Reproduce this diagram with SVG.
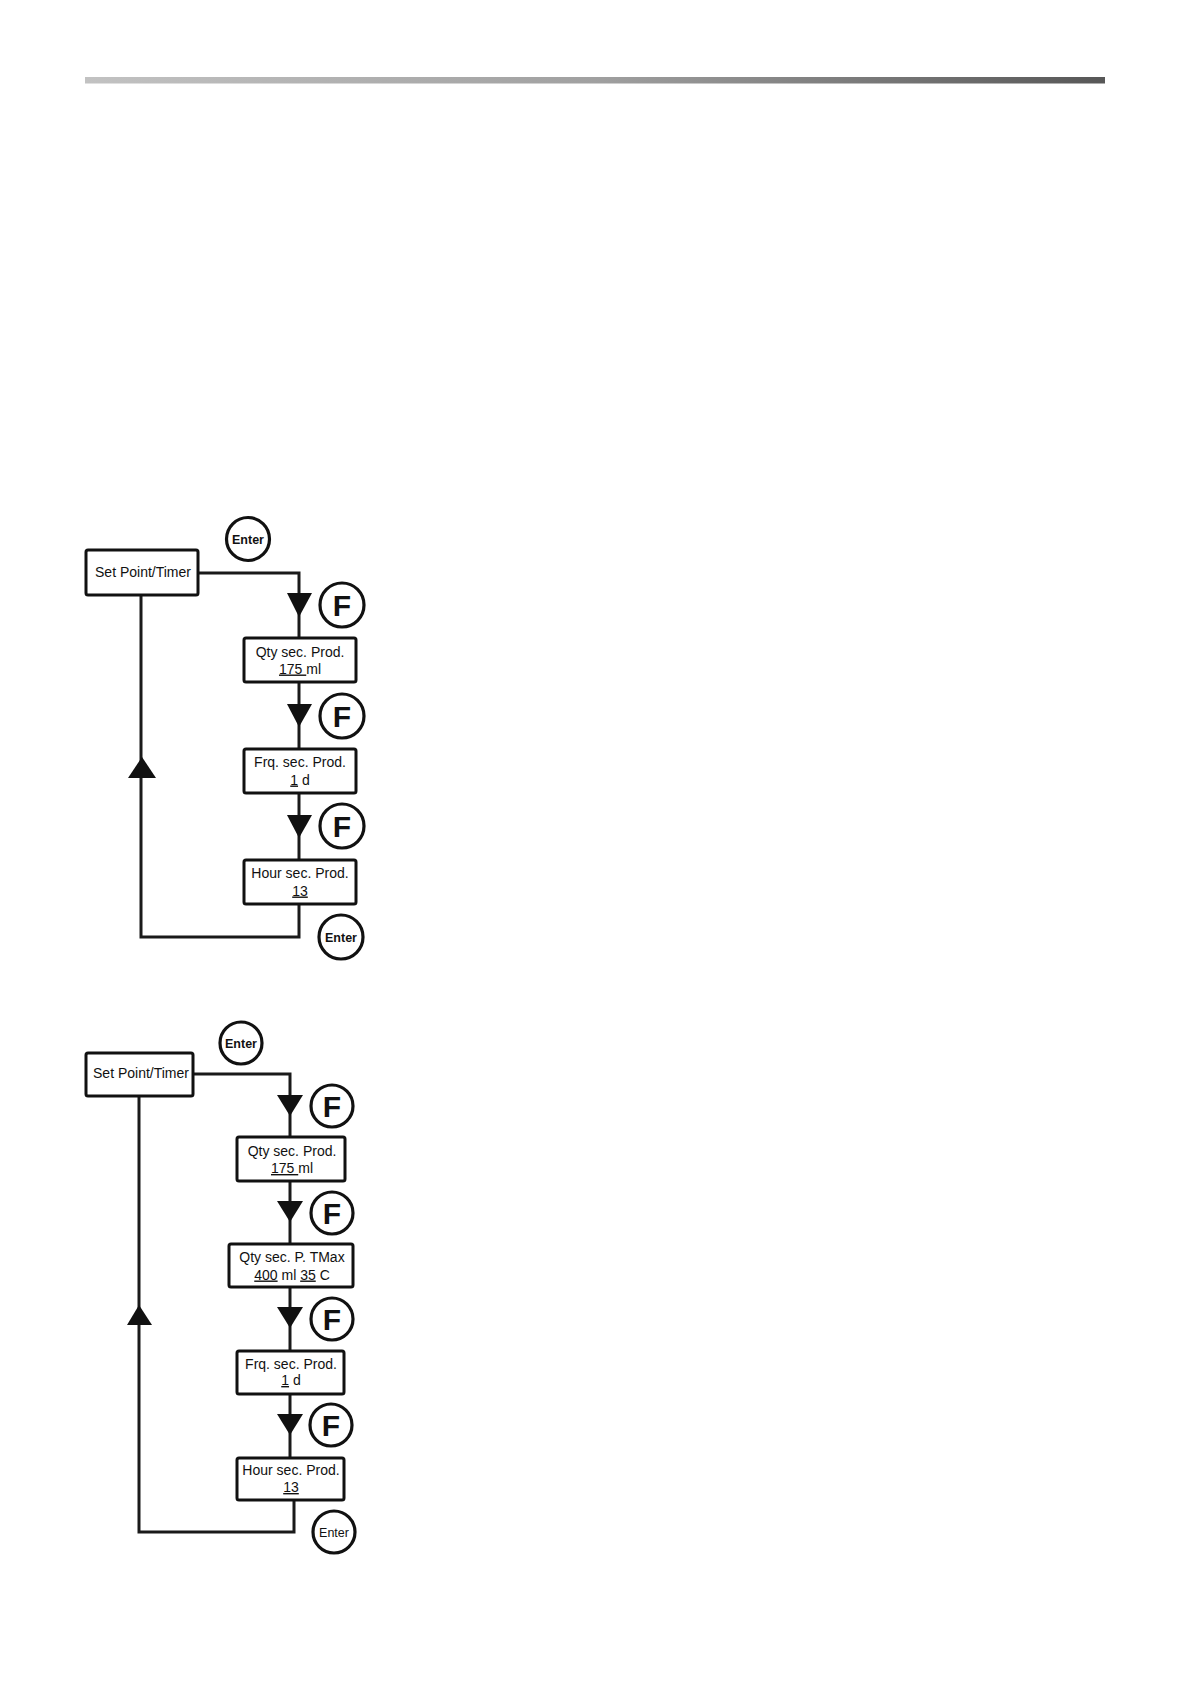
<svg xmlns="http://www.w3.org/2000/svg" width="1191" height="1684" viewBox="0 0 1191 1684">
<style>
.box{fill:#fff;stroke:#111;stroke-width:3}
.ln{fill:none;stroke:#1a1a1a;stroke-width:3;stroke-linejoin:miter}
.tri{fill:#111;stroke:none}
.cir{fill:#fff;stroke:#111;stroke-width:3.2}
.t{font-family:"Liberation Sans",Arial,sans-serif;font-size:14px;fill:#111;text-anchor:middle}
.en{font-family:"Liberation Sans",Arial,sans-serif;font-size:12.5px;font-weight:bold;fill:#111;text-anchor:middle}
.enr{font-family:"Liberation Sans",Arial,sans-serif;font-size:12.5px;fill:#111;text-anchor:middle}
.f{font-family:"Liberation Sans",Arial,sans-serif;font-size:30px;font-weight:bold;fill:#111;text-anchor:middle}
</style>
<defs>
<linearGradient id="bar" x1="0" y1="0" x2="1" y2="0">
<stop offset="0" stop-color="#c2c2c2"/>
<stop offset="0.5" stop-color="#a0a0a0"/>
<stop offset="1" stop-color="#575757"/>
</linearGradient>
</defs>
<rect width="1191" height="1684" fill="#fff"/>
<rect x="85" y="77" width="1020" height="6.5" fill="url(#bar)"/>

<!-- Diagram 1 connectors -->
<g id="connectors1">
<path class="ln" d="M198 573 H299 V638"/>
<path class="ln" d="M299 682 V749"/>
<path class="ln" d="M299 793 V860"/>
<path class="ln" d="M299 904 V937 H141 V595"/>
<polygon class="tri" points="287,593 312,593 299,617"/>
<polygon class="tri" points="287,704 312,704 299,727"/>
<polygon class="tri" points="287,815 312,815 299,838"/>
<polygon class="tri" points="128,778 156,778 142,757"/>
</g>

<g id="d1-setpoint">
<rect class="box" x="86" y="550" width="112" height="45" rx="2"/>
<text class="t" x="143" y="577">Set Point/Timer</text>
</g>
<g id="d1-enter1">
<circle class="cir" cx="248" cy="539" r="21.5"/>
<text class="en" x="248" y="543.5">Enter</text>
</g>
<g id="d1-f1">
<circle class="cir" cx="342" cy="605" r="22"/>
<text class="f" x="342" y="616">F</text>
</g>
<g id="d1-qty">
<rect class="box" x="244" y="638" width="112" height="44" rx="2"/>
<text class="t" x="300" y="657">Qty sec. Prod.</text>
<text class="t" x="300" y="673.5"><tspan text-decoration="underline">175 </tspan>ml</text>
</g>
<g id="d1-f2">
<circle class="cir" cx="342" cy="716" r="22"/>
<text class="f" x="342" y="727">F</text>
</g>
<g id="d1-frq">
<rect class="box" x="244" y="749" width="112" height="44" rx="2"/>
<text class="t" x="300" y="767">Frq. sec. Prod.</text>
<text class="t" x="300" y="784.5"><tspan text-decoration="underline">1</tspan> d</text>
</g>
<g id="d1-f3">
<circle class="cir" cx="342" cy="826" r="22"/>
<text class="f" x="342" y="837">F</text>
</g>
<g id="d1-hour">
<rect class="box" x="244" y="860" width="112" height="44" rx="2"/>
<text class="t" x="300" y="878">Hour sec. Prod.</text>
<text class="t" x="300" y="895.5"><tspan text-decoration="underline">13</tspan></text>
</g>
<g id="d1-enter2">
<circle class="cir" cx="341" cy="937" r="22"/>
<text class="en" x="341" y="941.5">Enter</text>
</g>

<!-- Diagram 2 connectors -->
<g id="connectors2">
<path class="ln" d="M193 1074 H290 V1137"/>
<path class="ln" d="M290 1181 V1244"/>
<path class="ln" d="M290 1287 V1351"/>
<path class="ln" d="M290 1394 V1458"/>
<path class="ln" d="M294 1500 V1532 H139 V1096"/>
<polygon class="tri" points="277,1095 303,1095 290,1116"/>
<polygon class="tri" points="277,1201 303,1201 290,1222"/>
<polygon class="tri" points="277,1307 303,1307 290,1328"/>
<polygon class="tri" points="277,1414 303,1414 290,1435"/>
<polygon class="tri" points="127,1325 152,1325 139,1305"/>
</g>

<g id="d2-setpoint">
<rect class="box" x="86" y="1053" width="107" height="43" rx="2"/>
<text class="t" x="141" y="1078">Set Point/Timer</text>
</g>
<g id="d2-enter1">
<circle class="cir" cx="241" cy="1043" r="21"/>
<text class="en" x="241" y="1047.5">Enter</text>
</g>
<g id="d2-f1">
<circle class="cir" cx="332" cy="1106" r="21"/>
<text class="f" x="332" y="1117">F</text>
</g>
<g id="d2-qty">
<rect class="box" x="237" y="1137" width="108" height="44" rx="2"/>
<text class="t" x="292" y="1156">Qty sec. Prod.</text>
<text class="t" x="292" y="1173"><tspan text-decoration="underline">175 </tspan>ml</text>
</g>
<g id="d2-f2">
<circle class="cir" cx="332" cy="1213" r="21"/>
<text class="f" x="332" y="1224">F</text>
</g>
<g id="d2-qtytmax">
<rect class="box" x="229" y="1244" width="124" height="43" rx="2"/>
<text class="t" x="292" y="1262">Qty sec. P. TMax</text>
<text class="t" x="292" y="1279.5"><tspan text-decoration="underline">400</tspan> ml <tspan text-decoration="underline">35</tspan> C</text>
</g>
<g id="d2-f3">
<circle class="cir" cx="332" cy="1319" r="21"/>
<text class="f" x="332" y="1330">F</text>
</g>
<g id="d2-frq">
<rect class="box" x="237" y="1351" width="107" height="43" rx="2"/>
<text class="t" x="291" y="1368.5">Frq. sec. Prod.</text>
<text class="t" x="291" y="1385"><tspan text-decoration="underline">1</tspan> d</text>
</g>
<g id="d2-f4">
<circle class="cir" cx="331" cy="1425" r="21"/>
<text class="f" x="331" y="1436">F</text>
</g>
<g id="d2-hour">
<rect class="box" x="237" y="1458" width="107" height="42" rx="2"/>
<text class="t" x="291" y="1475">Hour sec. Prod.</text>
<text class="t" x="291" y="1492"><tspan text-decoration="underline">13</tspan></text>
</g>
<g id="d2-enter2">
<circle class="cir" cx="334" cy="1532" r="21"/>
<text class="enr" x="334" y="1536.5">Enter</text>
</g>
</svg>
